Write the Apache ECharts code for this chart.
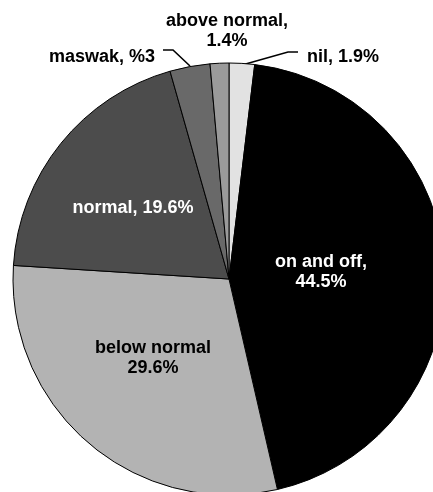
<!DOCTYPE html>
<html>
<head>
<meta charset="utf-8">
<script src="https://cdn.jsdelivr.net/npm/echarts@6/dist/echarts.min.js"></script>
<style>
html,body{margin:0;padding:0;background:#fff;}
#chart{width:433px;height:492px;}
</style>
</head>
<body>
<div id="chart"></div>
<script>
// ---- data ----
const categories = ['nil', 'on and off', 'below normal', 'normal', 'maswak', 'above normal'];
const values = [1.9, 44.5, 29.6, 19.6, 3, 1.4];
const labelTexts = ['nil, 1.9%', 'on and off,\n44.5%', 'below normal\n29.6%', 'normal, 19.6%', 'maswak, %3', 'above normal,\n1.4%'];

// ---- styling / layout ----
const colors = ['#e2e2e2', '#000000', '#b3b3b3', '#4c4c4c', '#696969', '#9a9a9a'];
const textColors = ['#000', '#fff', '#000', '#fff', '#000', '#000'];
const insideFlags = [false, true, true, true, false, false];
const leaderFlags = [true, false, false, false, true, false];
const labelAnchors = [[343, 57], [321, 272], [153, 358], [133, 208], [102, 57], [227, 31]];
const leaderPoints = {
  0: [[242, 65], [288, 52], [298, 52]],
  4: [[190, 66], [173, 50], [163, 50]]
};

const chart = echarts.init(document.getElementById('chart'), null, {renderer: 'canvas'});
chart.setOption({
  animation: false,
  backgroundColor: '#fff',
  series: [{
    type: 'pie',
    center: [229, 279],
    radius: 216,
    startAngle: 90,
    clockwise: true,
    avoidLabelOverlap: false,
    itemStyle: {borderColor: '#000', borderWidth: 1},
    emphasis: {disabled: true},
    data: categories.map((c, i) => ({
      name: c,
      value: values[i],
      itemStyle: {color: colors[i]},
      label: {
        show: true,
        position: insideFlags[i] ? 'inside' : 'outside',
        formatter: labelTexts[i],
        color: textColors[i],
        fontFamily: 'Liberation Sans, Arial, sans-serif',
        fontWeight: 'bold',
        fontSize: 18,
        lineHeight: 20,
        align: 'center'
      },
      labelLine: {
        show: leaderFlags[i],
        lineStyle: {color: '#000', width: 1.6}
      }
    })),
    labelLayout: function (p) {
      const a = labelAnchors[p.dataIndex];
      const res = {x: a[0], y: a[1], align: 'center', verticalAlign: 'middle'};
      if (leaderPoints[p.dataIndex]) res.labelLinePoints = leaderPoints[p.dataIndex];
      return res;
    }
  }]
});
</script>
</body>
</html>
